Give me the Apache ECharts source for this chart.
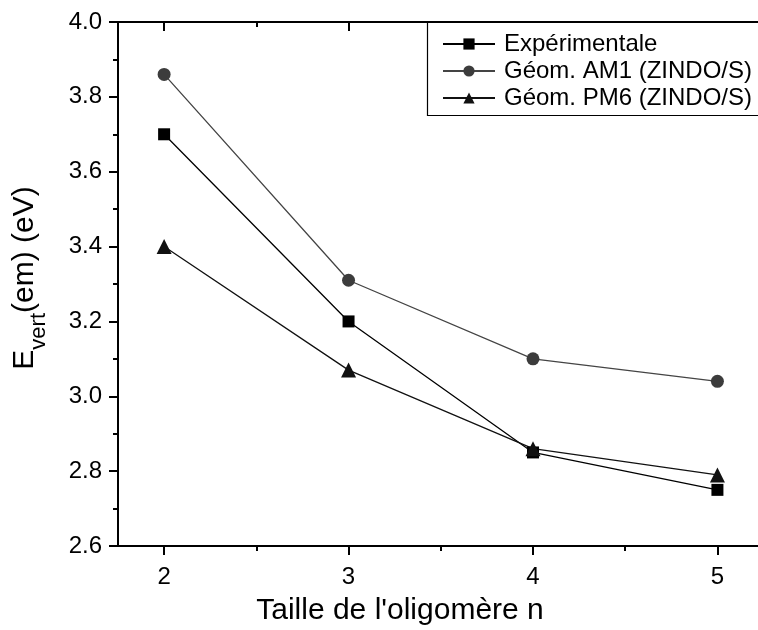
<!DOCTYPE html>
<html>
<head>
<meta charset="utf-8">
<script src="https://cdn.jsdelivr.net/npm/echarts@6/dist/echarts.min.js"></script>
<style>
  html, body { margin: 0; padding: 0; background: #fff; }
  #main { width: 758px; height: 630px; }
</style>
</head>
<body>
<div id="main"></div>
<script>
// 数据
var sizes = [2, 3, 4, 5];
var experimentale = [3.70, 3.20, 2.85, 2.75];
var am1 = [3.86, 3.31, 3.10, 3.04];
var pm6 = [3.40, 3.07, 2.86, 2.79];
var xTicks = [2, 3, 4, 5];
var xMinorTicks = [2.5, 3.5, 4.5];

function pairs(ys) {
    return sizes.map(function (x, i) { return [x, ys[i]]; });
}

var myChart = echarts.init(document.getElementById('main'));
var font = 'Liberation Sans, Arial, sans-serif';
var axisLine = { lineStyle: { color: '#000', width: 2 } };

var option = {
    animation: false,
    textStyle: { fontFamily: font, color: '#000' },
    grid: { left: 118, top: 22, right: 0, bottom: 84, outerBoundsMode: 'none' },
    // 图例框（右边超出画面）
    graphic: [{
        type: 'rect', z: 3,
        shape: { x: 427.5, y: 22.5, width: 360, height: 93 },
        style: { fill: '#fff', stroke: '#000', lineWidth: 1.2 }
    }],
    legend: {
        orient: 'vertical',
        left: 427,
        top: 22,
        z: 4,
        padding: [10, 10, 7, 15],
        itemWidth: 52,
        itemHeight: 14,
        itemGap: 3,
        textStyle: { fontSize: 24, color: '#000', fontFamily: font, padding: [0, 0, 0, 4] }
    },
    xAxis: [
        {
            type: 'value', position: 'bottom', min: 1.75, max: 5.22,
            splitLine: { show: false },
            axisLine: axisLine,
            axisTick: { customValues: xTicks, length: 9, lineStyle: { width: 2, color: '#000' } },
            axisLabel: { customValues: xTicks, fontSize: 24, color: '#000', margin: 19 },
            name: "Taille de l'oligomère n",
            nameLocation: 'middle',
            nameGap: 50,
            nameTextStyle: { fontSize: 30, color: '#000', padding: [0, 76, 0, 0] }
        },
        {
            type: 'value', position: 'bottom', min: 1.75, max: 5.22,
            splitLine: { show: false },
            axisLine: { show: false },
            axisTick: { customValues: xMinorTicks, length: 5, lineStyle: { width: 2, color: '#000' } },
            axisLabel: { show: false }
        },
        {
            type: 'value', position: 'top', min: 1.75, max: 5.22,
            splitLine: { show: false },
            axisLine: axisLine,
            axisTick: { customValues: xTicks, inside: true, length: 9, lineStyle: { width: 2, color: '#000' } },
            axisLabel: { show: false }
        },
        {
            type: 'value', position: 'top', min: 1.75, max: 5.22,
            splitLine: { show: false },
            axisLine: { show: false },
            axisTick: { customValues: xMinorTicks, inside: true, length: 5, lineStyle: { width: 2, color: '#000' } },
            axisLabel: { show: false }
        }
    ],
    yAxis: {
        type: 'value', min: 2.6, max: 4.0, interval: 0.2,
        splitLine: { show: false },
        axisLine: { show: true, lineStyle: { color: '#000', width: 2 } },
        axisTick: { show: true, length: 9, lineStyle: { width: 2, color: '#000' } },
        minorTick: { show: true, splitNumber: 2, length: 5, lineStyle: { width: 2, color: '#000' } },
        axisLabel: {
            fontSize: 24, color: '#000', margin: 16,
            formatter: function (v) { return v.toFixed(1); }
        },
        name: '{e|E}{sub|vert}{e|(em) (eV)}',
        nameLocation: 'middle',
        nameGap: 68,
        nameTextStyle: {
            padding: [0, 0, 0, 12],
            rich: {
                e: { fontSize: 30, color: '#000', fontFamily: font, lineHeight: 40, verticalAlign: 'top' },
                sub: { fontSize: 22, color: '#000', fontFamily: font, lineHeight: 40, verticalAlign: 'bottom' }
            }
        }
    },
    series: [
        {
            name: 'Expérimentale', type: 'line', data: pairs(experimentale),
            symbol: 'rect', symbolSize: 12,
            itemStyle: { color: '#000' },
            lineStyle: { color: '#000', width: 1.3 }
        },
        {
            name: 'Géom. AM1 (ZINDO/S)', type: 'line', data: pairs(am1),
            symbol: 'circle', symbolSize: 13,
            itemStyle: { color: '#3c3c3c' },
            lineStyle: { color: '#444', width: 1.3 }
        },
        {
            name: 'Géom. PM6 (ZINDO/S)', type: 'line', data: pairs(pm6),
            symbol: 'triangle', symbolSize: 15,
            itemStyle: { color: '#111' },
            lineStyle: { color: '#111', width: 1.3 }
        }
    ]
};

myChart.setOption(option);
</script>
</body>
</html>
